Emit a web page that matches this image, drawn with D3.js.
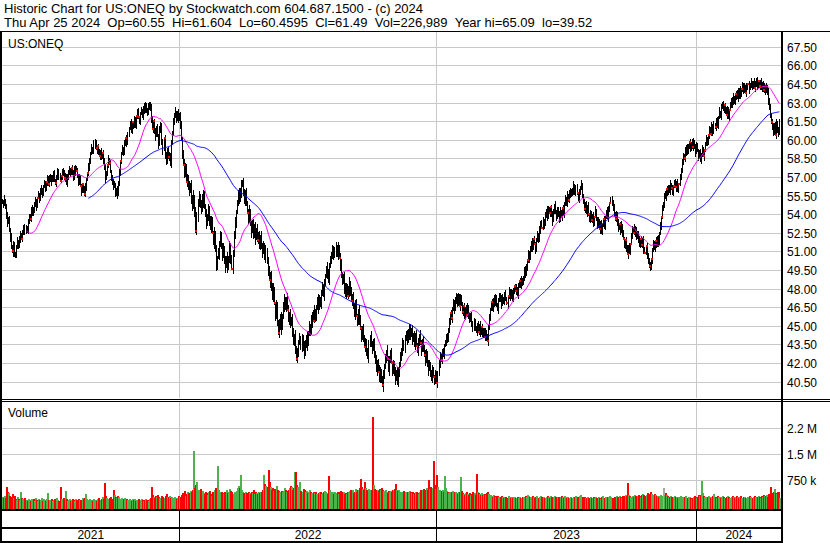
<!DOCTYPE html>
<html><head><meta charset="utf-8">
<script src="https://cdn.jsdelivr.net/npm/d3@7"></script>
<style>
body{margin:0;background:#fff}
svg{display:block}
text{font-family:"Liberation Sans",Arial,sans-serif;fill:#000}
</style>
</head><body>
<svg id="c" width="830" height="543"></svg>
<script>
// ---- data (daily, ~Apr 2021 .. Apr 25 2024), read/ ----
const closes = [
55.0,54.8,55.2,54.6,54.0,53.3,53.6,52.8,52.1,51.4,
51.0,51.6,50.9,50.7,51.3,51.8,51.5,52.1,52.4,52.0,
52.6,52.9,52.5,53.0,52.8,53.4,53.9,53.6,54.2,54.5,
54.2,54.8,55.1,54.7,55.3,55.6,55.2,55.8,56.1,55.7,
56.2,56.5,56.1,56.6,56.9,56.4,56.8,57.1,56.7,56.9,
57.3,56.8,56.5,57.0,57.4,57.2,56.7,57.1,57.5,57.3,
56.9,57.2,56.6,56.9,57.4,57.6,57.3,57.7,57.4,57.0,
57.5,57.8,57.5,57.1,56.6,56.9,56.3,55.9,56.4,56.0,
55.6,56.2,56.8,57.3,57.9,58.4,58.9,59.4,59.1,59.6,
59.8,59.3,59.5,59.0,58.7,59.0,58.6,58.9,58.4,57.8,
56.9,57.3,58.0,58.4,58.1,57.5,57.0,56.6,56.2,56.5,
55.7,55.9,55.6,56.5,57.4,58.3,58.9,59.3,59.0,59.6,
60.1,59.8,60.5,60.9,61.3,60.8,61.4,61.1,61.7,61.3,
61.9,62.2,61.8,61.5,62.1,62.4,62.0,62.6,62.3,62.8,
62.5,62.1,62.7,62.9,62.6,61.6,60.9,61.5,60.7,60.3,
61.0,60.4,59.6,60.8,61.2,59.9,59.2,60.1,58.7,58.3,
59.2,58.6,58.9,58.1,59.7,60.6,61.4,61.9,62.2,61.8,
62.1,61.6,62.0,61.2,60.1,58.9,58.0,57.2,57.9,56.6,
56.9,56.2,55.8,56.4,55.3,54.6,55.4,54.2,52.6,53.9,
54.8,55.5,54.9,54.3,55.1,55.6,54.7,54.0,53.2,53.8,
54.5,53.6,52.9,53.4,52.5,51.8,52.4,51.2,49.8,50.5,
50.8,51.6,52.3,51.5,50.6,51.2,50.3,49.8,50.5,49.7,
50.4,51.3,50.6,49.6,50.9,52.2,53.4,54.1,55.0,55.6,
55.2,55.9,56.3,56.6,55.8,55.2,55.7,54.9,54.1,53.6,
54.2,53.3,52.6,53.2,52.4,53.0,52.1,52.7,51.9,52.3,
51.6,52.2,51.4,50.9,51.5,50.6,51.0,50.2,49.4,48.7,
49.2,48.1,47.3,47.9,46.8,45.9,46.6,45.2,44.4,45.0,
45.8,44.9,45.7,46.5,47.2,46.6,47.1,46.3,45.5,45.9,
45.1,45.6,44.6,43.7,44.2,43.1,42.3,42.9,43.6,44.0,
43.4,44.0,43.2,42.7,43.5,44.1,43.6,44.3,45.0,44.6,
45.3,45.9,45.4,46.2,45.7,46.4,47.0,46.5,47.2,46.8,
47.5,48.1,47.6,48.4,49.0,49.6,49.2,48.8,49.8,50.2,
50.8,51.2,50.6,50.9,51.4,50.8,51.3,50.5,49.8,49.2,
48.5,48.9,48.1,47.6,48.2,47.4,47.9,48.4,47.7,47.0,
47.4,46.6,46.0,46.7,45.8,45.3,46.1,45.5,44.8,44.2,
44.7,43.9,43.3,43.8,42.9,42.5,43.4,44.0,43.6,43.1,
43.7,42.8,42.2,41.5,42.0,41.3,40.8,41.4,40.6,40.2,
41.0,41.7,42.4,42.9,42.3,41.6,42.2,42.8,42.0,41.4,
41.9,41.2,40.7,41.3,40.5,41.1,41.8,42.5,43.1,43.6,
43.2,43.9,44.4,43.8,44.3,44.8,44.2,44.6,43.9,44.3,
43.6,44.1,43.4,43.0,43.7,44.2,43.6,43.1,43.8,43.2,
42.6,42.2,42.8,42.0,41.5,41.9,41.2,40.8,41.4,40.9,
40.5,41.1,40.4,41.2,41.9,42.6,42.2,42.9,42.7,43.4,
43.6,44.2,43.8,44.7,45.3,46.0,45.6,46.4,46.9,46.3,
47.0,47.5,46.8,47.4,46.6,47.2,46.8,46.1,46.6,45.8,
46.4,45.9,46.5,46.0,45.4,45.9,45.2,44.7,45.3,44.9,
44.6,45.1,44.5,45.0,44.4,44.9,44.3,44.7,44.1,44.6,
44.0,43.8,44.9,45.7,46.3,46.9,46.4,47.1,46.7,47.3,
46.8,46.4,47.0,47.5,47.1,46.7,47.3,47.0,47.6,47.2,
46.8,47.4,47.8,47.3,47.7,47.2,47.8,48.2,47.8,48.0,
47.6,48.2,48.6,48.3,48.8,48.4,48.9,49.5,49.1,49.8,
50.3,50.9,50.4,51.2,51.7,51.3,52.0,51.6,51.2,51.9,
52.4,52.0,52.7,53.3,52.9,53.6,53.2,53.9,54.3,53.8,
54.4,54.1,54.6,54.0,53.5,54.2,54.7,54.3,53.7,54.4,
54.0,53.6,54.2,53.8,54.5,54.1,54.8,55.3,54.9,55.5,
55.1,55.7,56.0,55.6,55.9,56.3,55.8,56.2,55.7,55.3,
55.8,56.1,56.4,55.6,55.0,54.4,54.8,54.2,54.6,54.0,
53.6,54.1,53.5,53.9,53.3,53.8,54.3,53.7,53.1,53.5,
52.8,53.2,52.6,53.1,53.6,53.0,53.7,54.2,53.8,54.4,
54.9,55.2,55.0,54.5,54.1,53.6,54.0,53.4,52.8,53.2,
52.7,53.1,52.5,52.0,51.5,51.9,51.2,50.8,51.4,51.0,
51.6,52.3,52.8,52.5,53.0,52.6,52.1,52.5,52.0,51.6,
52.0,51.5,51.9,51.2,50.9,51.4,50.7,50.2,49.8,49.7,
50.4,51.1,51.7,51.3,51.8,51.5,52.1,51.7,52.4,53.1,
53.8,54.6,54.6,55.6,55.4,56.0,55.7,56.2,55.9,56.4,
56.1,55.8,56.3,56.6,56.2,56.5,56.0,56.4,57.0,57.6,
58.2,58.8,58.5,59.1,59.4,59.0,59.5,59.8,59.3,59.7,
59.4,59.9,59.5,59.0,59.6,59.2,58.6,58.9,58.4,58.8,
59.3,58.7,59.2,59.6,60.1,59.8,60.4,60.9,60.5,61.1,
60.7,61.3,61.0,61.6,61.2,61.8,62.3,62.0,62.6,62.9,
62.5,62.8,62.3,62.0,62.5,61.9,62.4,62.8,63.2,62.9,
63.4,63.1,63.7,63.4,63.9,63.5,64.0,63.6,64.1,64.4,
64.0,64.3,63.8,64.2,64.5,64.1,64.4,64.7,64.3,64.6,
64.2,64.5,64.8,64.4,64.7,64.3,64.6,64.2,64.5,64.0,
64.4,63.9,64.3,63.8,63.2,62.6,62.1,61.4,61.0,60.6,
61.2,60.4,61.5,60.8,60.6,61.49
];
// wick above / below the close-to-close body, in tenths of a dollar
const hiOff = [
2,1,3,0,2,1,1,2,0,3,1,2,1,0,2,3,1,1,2,0,1,2,3,1,0,2,1,1,3,2,0,1,2,1,0,2,
1,3,2,0,1,2,1,0,2,1,3,1,0,2,1,2,0,1,3,2,1,0,1,2,2,1,0,3,1,2,1,0,2,1,3,1,
0,2,1,3,2,1,0,1,2,3,1,0,2,1,1,2,0,3,2,1,0,1,2,1,3,0,2,1,2,1,0,3,1,2,0,1,
2,1,0,2,3,1,2,0,1,2,1,3,0,2,1,1,2,3,0,1,2,1,0,2,3,1,1,2,0,1,3,2,1,0,2,1,
1,2,3,0,1,2,1,2,0,3,2,1,1,0,2,3,1,2,1,0,2,1,3,2,4,1,2,3,1,2,3,1,2,4,2,1,
3,2,4,1,3,2,5,1,3,2,4,3,1,2,5,3,2,1,4,2,3,1,2,4,3,1,5,2,3,1,4,2,3,2,1,4,
2,3,1,4,2,5,3,1,2,4,3,2,1,3,5,2,4,1,3,2,2,4,1,3,5,2,1,3,4,2,3,1,5,2,3,1,
4,2,3,1,5,2,3,4,1,2,3,5,2,1,4,3,2,5,1,3,2,4,3,1,2,5,3,2,4,1,3,2,1,4,2,3,
2,4,1,3,2,5,3,1,4,2,3,1,5,2,3,4,1,2,3,5,2,1,3,4,2,3,1,2,5,3,2,4,1,3,2,4,
3,1,4,2,3,5,1,2,4,3,2,1,3,5,2,4,1,3,2,3,4,1,2,5,3,1,2,4,3,2,1,3,4,2,5,1,
2,3,1,4,2,3,5,2,1,3,4,2,3,1,5,2,3,2,4,1,3,2,4,1,3,5,2,3,1,4,2,3,1,2,4,3,
3,2,4,1,2,3,5,2,3,1,4,2,1,3,2,4,3,1,2,3,1,2,4,2,1,3,2,1,3,2,1,2,3,1,2,1,
2,1,3,0,2,1,2,1,3,1,0,2,1,3,2,1,0,2,1,2,3,1,0,1,2,1,3,2,0,1,2,1,3,0,2,1,
1,2,0,3,1,2,1,0,2,1,3,2,1,0,2,1,1,3,2,0,1,2,1,0,3,1,2,1,2,0,1,3,1,2,0,2,
2,0,1,2,3,1,0,2,1,2,1,3,0,2,1,1,2,0,3,1,2,1,0,2,1,3,2,1,0,1,2,2,1,3,0,1,
1,2,3,1,0,2,1,2,0,3,1,2,1,0,2,3,1,1,2,0,2,1,3,1,0,2,1,2,1,3,0,2,1,1,2,0,
3,1,0,2,1,2,3,1,0,2,1,1,3,2,0,1,2,1,3,0,2,1,2,0,1,3,1,2,1,0,2,3,1,2,0,1,
2,1,2,0,3,1,1,2,0,2,1,3,1,0,2,1,2,3,0,1,2,1,0,3,1,2,1,2,0,1,3,1,2,0,2,1,
1,3,1,2,0,1,2,1,3,0,2,1,2,1,0,3,1,2,1,0,2,1,3,2,0,1,2,1,0,2,3,1,2,1,0,2,
2,1,0,2,1,3,1,2,0,1,2,1,3,0,2,1,2,0,1,3,2,1,0,2,1,2,3,1,0,2,1,2,1,3,0,2,
1,2,1,3,0,2,1,2,0,1,3,2,1,2,0,1,2,3,1,2,1,0,2,1,3,1,2,0,2,3,1,2,1,0,2,1
];
const loOff = [
1,2,0,1,3,2,0,1,2,1,0,3,2,1,1,0,2,1,3,0,1,2,1,0,2,3,1,0,1,2,2,0,1,3,1,0,
2,0,1,3,1,0,2,1,2,0,1,1,3,0,2,1,0,2,1,3,0,1,2,1,0,2,1,3,0,1,2,0,1,2,1,3,
0,1,2,1,0,3,1,2,0,1,2,0,1,3,2,0,1,1,2,0,3,1,0,2,1,0,2,1,3,0,1,2,0,1,2,1,
1,0,2,1,3,0,1,2,1,0,2,1,0,3,1,2,0,1,2,1,0,2,3,1,0,1,2,0,1,3,1,0,2,1,0,2,
2,1,0,2,1,3,0,1,2,0,1,2,3,0,1,2,1,0,2,1,3,0,2,1,0,3,2,1,0,2,1,3,0,2,1,0,
3,1,2,0,4,2,1,3,0,2,4,1,3,2,0,5,2,1,3,0,2,4,1,3,0,2,5,1,3,2,0,4,1,2,3,0,
2,4,0,3,1,2,5,0,3,2,1,4,0,2,3,1,5,0,2,3,4,1,0,3,2,1,4,0,3,2,5,1,0,2,3,4,
1,3,0,2,4,1,3,0,5,2,1,3,0,4,2,1,0,3,2,5,1,0,3,2,4,0,1,3,2,0,4,1,2,3,0,2,
3,0,2,4,1,3,0,2,5,1,0,3,2,4,0,1,3,2,0,4,1,2,3,0,2,5,1,0,3,2,4,0,1,3,2,0,
2,1,4,0,3,2,1,0,4,2,3,0,1,5,2,0,3,1,2,4,0,2,1,3,0,4,2,1,0,3,2,1,4,0,2,3,
0,3,2,1,4,0,2,3,1,0,4,2,1,3,0,2,5,1,0,3,2,1,4,0,2,3,1,0,2,4,1,3,0,2,1,3,
2,0,3,1,2,4,0,1,3,2,0,4,1,2,0,3,1,2,4,0,2,1,3,0,2,1,0,3,1,2,0,2,1,3,0,1,
1,0,2,1,0,3,1,2,0,1,2,1,0,3,1,0,2,1,2,0,1,3,1,0,2,1,0,2,1,3,0,1,2,0,1,2,
0,2,1,0,3,1,2,0,1,2,1,0,2,1,3,0,1,2,0,1,2,1,0,3,1,2,0,1,2,1,0,2,1,3,0,1,
2,1,0,2,1,0,3,1,2,0,1,2,1,0,3,1,0,2,1,2,0,1,3,0,1,2,1,0,2,1,3,0,1,2,1,0,
1,2,1,0,2,1,3,0,1,2,0,1,3,1,0,2,1,2,0,1,3,1,0,2,1,0,2,1,3,0,1,2,0,1,2,1,
0,1,2,1,0,3,1,2,0,1,2,0,1,3,1,0,2,1,2,0,1,2,1,0,3,1,2,0,1,2,1,0,3,1,2,0,
2,0,1,3,1,0,2,1,2,0,1,3,0,1,2,1,0,2,1,3,0,1,2,1,0,2,1,0,3,1,2,0,1,2,1,0,
1,2,0,1,2,1,0,3,1,2,0,1,2,1,0,2,3,1,0,1,2,1,0,2,1,3,0,1,2,0,1,2,1,0,3,1,
0,2,1,2,0,1,3,1,0,2,1,2,0,1,3,0,1,2,1,0,2,1,3,0,1,2,0,1,2,1,0,3,1,2,0,1,
2,1,0,2,1,3,0,1,2,1,0,2,1,3,1,0,2,1,2,0,1,2,0,1,3,1,2,0,1,2,1,0,2,1,3,1
];
// daily volume, thousands of shares
const volK = [
280,230,310,250,560,420,380,300,260,220,350,240,310,200,180,260,210,190,400,240,200,170,230,190,160,210,180,150,220,170,200,160,250,180,140,210,
190,170,230,160,200,180,150,210,380,170,190,160,220,150,180,200,170,240,190,160,550,210,180,230,170,440,200,160,190,220,150,180,210,170,160,200,
180,150,210,170,190,160,230,200,250,360,210,180,160,200,170,190,150,210,180,160,200,230,170,190,210,260,220,680,300,250,210,190,230,260,210,180,
480,330,280,250,300,270,220,200,240,190,210,230,180,200,170,210,190,160,220,180,200,150,190,170,210,160,180,200,170,150,190,210,170,180,160,200,
230,550,320,280,240,300,260,330,280,250,220,300,270,240,310,350,280,260,300,240,270,250,220,260,240,200,230,300,260,280,320,380,350,430,300,360,
420,380,350,450,400,480,1600,520,620,700,480,420,500,380,440,390,350,420,380,330,400,450,360,310,420,380,460,520,430,1150,480,400,360,420,380,350,
420,390,460,380,420,500,450,400,360,420,380,430,520,600,540,900,480,420,380,350,420,390,360,410,380,350,420,390,470,360,400,380,350,420,380,400,
420,480,900,650,600,550,1050,700,560,480,520,450,500,420,600,480,450,420,380,450,400,430,520,480,420,450,480,520,600,550,480,520,1000,980,620,560,
480,700,450,420,500,460,400,430,380,420,460,400,380,350,420,380,400,360,340,380,420,400,360,380,420,450,400,380,360,870,480,420,380,400,360,420,
380,400,360,420,450,380,400,420,360,380,350,400,420,450,480,420,460,380,400,500,420,460,480,520,800,560,500,480,700,520,480,440,500,460,480,2580,
620,500,460,420,480,440,500,460,520,480,440,400,460,420,380,430,400,450,420,480,460,500,650,480,440,460,420,400,380,420,440,400,380,420,400,450,
420,380,400,360,380,420,400,380,360,420,460,420,480,500,450,480,520,460,750,500,560,480,520,1310,620,500,900,560,480,420,450,480,420,860,520,440,
400,380,420,360,400,450,380,420,400,380,360,420,400,850,450,380,360,340,380,400,360,340,380,320,360,400,380,340,930,420,380,360,340,380,320,350,
360,340,380,420,360,320,340,300,280,320,300,260,290,310,270,250,280,300,260,240,280,270,250,290,260,240,270,230,260,280,250,230,260,240,280,250,
230,260,280,250,300,280,320,290,260,280,250,300,270,240,260,290,250,230,270,300,260,280,250,240,280,310,270,250,290,260,240,270,300,260,240,280,
260,240,280,300,270,250,290,260,240,280,250,230,270,250,240,280,260,300,270,250,290,320,280,260,240,280,250,230,260,240,220,260,250,230,270,240,
260,230,250,280,240,220,260,290,250,230,270,240,260,280,300,270,250,240,280,260,300,280,260,290,270,250,310,280,300,340,300,670,340,300,280,260,
300,280,320,290,260,300,340,310,280,330,360,320,300,340,380,350,320,400,360,330,300,350,320,290,310,280,300,330,290,300,520,340,380,320,300,280,
260,300,280,250,270,300,260,280,240,270,300,280,260,240,270,300,250,230,260,280,240,220,250,270,300,280,250,280,320,300,340,720,380,300,280,260,
250,280,300,260,240,280,300,350,270,250,300,280,260,240,280,300,260,230,250,280,300,270,250,230,260,290,270,250,280,300,260,240,270,290,250,230,
260,280,250,230,270,300,280,250,240,270,290,260,240,280,300,270,250,300,280,320,290,300,330,280,350,320,550,380,340,400,500,380,350,420,400,227
];
const yearStartIdx = [173, 423, 675];          // first trading day of 2022, 2023, 2024
const yearLabels = ["2021", "2022", "2023", "2024"];
const priceTicks = [40.5,42,43.5,45,46.5,48,49.5,51,52.5,54,55.5,57,58.5,60,61.5,63,64.5,66,67.5];
const volTicks = [750000, 1500000, 2250000];
const volTickLabels = ["750 k", "1.5 M", "2.2 M"];
const maPeriods = [25, 85];
const maColors = ["#ff00ff", "#0000ff"];
const header1 = "Historic Chart for US:ONEQ by Stockwatch.com 604.687.1500 - (c) 2024";
const header2Fields = ["Thu Apr 25 2024", "Op=60.55", "Hi=61.604", "Lo=60.4595", "Cl=61.49", "Vol=226,989", "Year hi=65.09", "lo=39.52"];
const symbol = "US:ONEQ";

const N = closes.length;
if (hiOff.length !== N || loOff.length !== N || volK.length !== N) {
  throw new Error("length mismatch " + N + " " + hiOff.length + " " + loOff.length + " " + volK.length);
}

// ---- layout ----
const W = 830, H = 543;
const plotL = 2, plotR = 781;
const pTop = 32, pBot = 398;
const vTop = 402, vBot = 509;

const svg = d3.select("#c");
svg.append("rect").attr("width", W).attr("height", H).attr("fill", "#fff");

const x = d3.scaleLinear().domain([0, N - 1]).range([1.83, 779.4]);
const y = d3.scaleLinear().domain([40.5, 67.5]).range([381.5, 46.7]);
const yv = d3.scaleLinear().domain([0, 2250000]).range([506.3, 428.3]);
const px = i => Math.round(x(i)) + 0.5;
const yearX = yearStartIdx.map(i => Math.round(x(i) - 1) + 0.5);

// header (fields separated by two spaces)
svg.append("text").attr("x", 4).attr("y", 13).attr("font-size", 13).text(header1);
svg.append("text").attr("x", 4).attr("y", 27).attr("font-size", 13)
  .text(header2Fields.join(" \u00a0"));

// grid (price)
const g = svg.append("g");
g.selectAll("line.pg").data(priceTicks).join("line")
  .attr("x1", plotL).attr("x2", plotR)
  .attr("y1", d => Math.round(y(d)) + 0.5).attr("y2", d => Math.round(y(d)) + 0.5)
  .attr("stroke", "#c8c8c8").attr("stroke-width", 1);
g.selectAll("line.vg").data(volTicks).join("line")
  .attr("x1", plotL).attr("x2", plotR)
  .attr("y1", d => Math.round(yv(d)) + 0.5).attr("y2", d => Math.round(yv(d)) + 0.5)
  .attr("stroke", "#c8c8c8").attr("stroke-width", 1);
// year grid lines in panels
yearX.forEach(xx => {
  g.append("line").attr("x1", xx).attr("x2", xx).attr("y1", pTop).attr("y2", pBot).attr("stroke", "#c8c8c8");
  g.append("line").attr("x1", xx).attr("x2", xx).attr("y1", vTop).attr("y2", vBot).attr("stroke", "#c8c8c8");
  g.append("line").attr("x1", xx).attr("x2", xx).attr("y1", vBot).attr("y2", 541).attr("stroke", "#000");
});

// price bars
const bars = svg.append("g").attr("shape-rendering", "crispEdges");
const barData = closes.map((c, i) => {
  const prev = i > 0 ? closes[i - 1] : c;
  return {
    i, c, prev,
    hi: Math.max(prev, c) + hiOff[i] / 10,
    lo: Math.min(prev, c) - loOff[i] / 10
  };
});
bars.selectAll("line").data(barData).join("line")
  .attr("x1", d => px(d.i)).attr("x2", d => px(d.i))
  .attr("y1", d => Math.floor(y(d.hi))).attr("y2", d => Math.ceil(y(d.lo)) + 1)
  .attr("stroke", "#000").attr("stroke-width", 1);
// red close marks: close at the day's extreme (low on a down day, high on an up day)
const marked = barData.filter(d => (d.c < d.prev && loOff[d.i] === 0) || (d.c > d.prev && hiOff[d.i] === 0));
bars.selectAll("rect").data(marked).join("rect")
  .attr("x", d => Math.round(x(d.i))).attr("y", d => Math.round(y(d.c)) - 1)
  .attr("width", 2).attr("height", 2).attr("fill", "#ff0000");

// moving averages
maPeriods.forEach((p, k) => {
  const pts = [];
  for (let i = p - 1; i < N; i++) {
    pts.push([i, d3.mean(closes.slice(i - p + 1, i + 1))]);
  }
  svg.append("path").datum(pts)
    .attr("d", d3.line().x(d => x(d[0])).y(d => y(d[1])))
    .attr("fill", "none").attr("stroke", maColors[k]).attr("stroke-width", 1);
});

// volume bars
const vb = svg.append("g").attr("shape-rendering", "crispEdges");
vb.selectAll("rect").data(volK.map((v, i) => ({ i, v: v * 1000 }))).join("rect")
  .attr("x", d => Math.round(x(d.i)))
  .attr("width", 2)
  .attr("y", d => Math.round(yv(d.v)))
  .attr("height", d => vBot - Math.round(yv(d.v)))
  .attr("fill", d => {
    if (d.i === 0) return "#4cb34c";
    const c = closes[d.i], p = closes[d.i - 1];
    return c > p ? "#4cb34c" : (c < p ? "#ff0000" : "#a8a8a8");
  });

// frames
const fr = svg.append("g").attr("shape-rendering", "crispEdges");
fr.append("rect").attr("x", 0).attr("y", 31).attr("width", W).attr("height", 1).attr("fill", "#000");
fr.append("rect").attr("x", 0).attr("y", 31).attr("width", 2).attr("height", 511).attr("fill", "#000");
fr.append("rect").attr("x", 781).attr("y", 31).attr("width", 2).attr("height", 511).attr("fill", "#000");
fr.append("rect").attr("x", 0).attr("y", 399).attr("width", W).attr("height", 1).attr("fill", "#000");
fr.append("rect").attr("x", 0).attr("y", 401).attr("width", W).attr("height", 1).attr("fill", "#000");
fr.append("rect").attr("x", 0).attr("y", 509).attr("width", 783).attr("height", 2).attr("fill", "#000");
fr.append("rect").attr("x", 0).attr("y", 527).attr("width", 783).attr("height", 2).attr("fill", "#000");
fr.append("rect").attr("x", 0).attr("y", 541).attr("width", 783).attr("height", 2).attr("fill", "#000");

// panel labels
svg.append("text").attr("x", 8).attr("y", 48).attr("font-size", 12).text(symbol);
svg.append("text").attr("x", 8).attr("y", 417).attr("font-size", 12).text("Volume");

// right axis labels
svg.selectAll("text.pt").data(priceTicks).join("text")
  .attr("x", 787).attr("y", d => Math.round(y(d)) + 4.5).attr("font-size", 12)
  .text(d => d.toFixed(2));
svg.selectAll("text.vt").data(volTicks).join("text")
  .attr("x", 787).attr("y", d => Math.round(yv(d)) + 4.5).attr("font-size", 12)
  .text((d, i) => volTickLabels[i]);

// year labels centred in each year span
const bounds = [plotL].concat(yearX, [plotR]);
yearLabels.forEach((lab, k) => {
  svg.append("text").attr("x", (bounds[k] + bounds[k + 1]) / 2).attr("y", 539)
    .attr("text-anchor", "middle").attr("font-size", 12).text(lab);
});
</script>
</body></html>
